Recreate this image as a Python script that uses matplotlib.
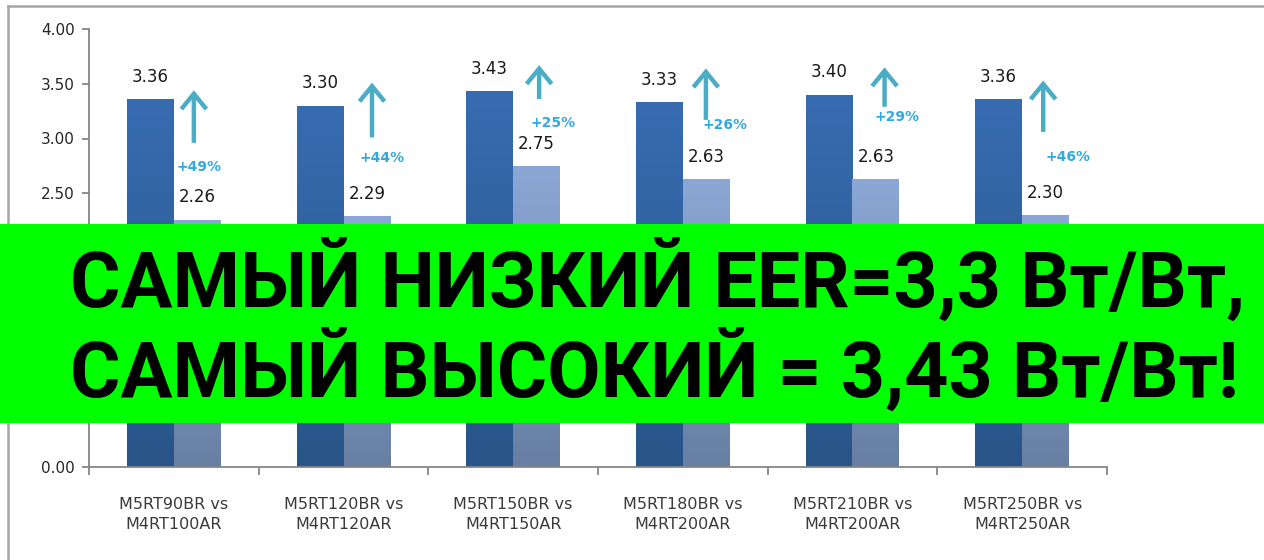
import numpy as np
import matplotlib
matplotlib.use("Agg")
import matplotlib.pyplot as plt
from matplotlib.patches import FancyArrowPatch, Rectangle
from matplotlib.lines import Line2D
from matplotlib.colors import LinearSegmentedColormap

# ---------------- data ----------------
categories = ["M5RT90BR vs\nM4RT100AR", "M5RT120BR vs\nM4RT120AR",
              "M5RT150BR vs\nM4RT150AR", "M5RT180BR vs\nM4RT200AR",
              "M5RT210BR vs\nM4RT200AR", "M5RT250BR vs\nM4RT250AR"]
new_eer = [3.36, 3.30, 3.43, 3.33, 3.40, 3.36]
old_eer = [2.26, 2.29, 2.75, 2.63, 2.63, 2.30]
gain_labels = ["+49%", "+44%", "+25%", "+26%", "+29%", "+46%"]
y_ticks = [0.0, 0.5, 1.0, 1.5, 2.0, 2.5, 3.0, 3.5, 4.0]
banner_lines = ["САМЫЙ НИЗКИЙ EER=3,3 Вт/Вт,", "САМЫЙ ВЫСОКИЙ = 3,43 Вт/Вт!"]

# ---------------- layout (annotation placement) ----------------
arrow_dx = [0.118, 0.168, 0.153, 0.136, 0.189, 0.124]
arrow_tail = [2.96, 3.01, 3.36, 3.17, 3.29, 3.06]
arrow_tip = [3.44, 3.51, 3.67, 3.64, 3.65, 3.53]
pct_dx = [0.147, 0.227, 0.235, 0.248, 0.262, 0.269]
pct_y = [2.74, 2.82, 3.14, 3.12, 3.20, 2.83]

W, H = 1264, 560
fig = plt.figure(figsize=(W / 100, H / 100), dpi=100)
fig.patch.set_facecolor("white")

ax = fig.add_axes([89 / W, (H - 467) / H, (1107 - 89) / W, (467 - 29) / H])

bw = 0.277
x = np.arange(len(categories))

dark_cmap = LinearSegmentedColormap.from_list("d", ["#285488", "#376CB1"])
light_cmap = LinearSegmentedColormap.from_list("l", ["#687FA3", "#8BA7D5"])
grad = np.linspace(0, 1, 256).reshape(-1, 1)

def grad_bars(xs, vals, cmap):
    bars = ax.bar(xs, vals, width=bw, color="none", edgecolor="none", zorder=2)
    for b in bars:
        x0, y0 = b.get_x(), b.get_y()
        w, h = b.get_width(), b.get_height()
        im = ax.imshow(grad, extent=[x0, x0 + w, y0, y0 + h], origin="lower",
                       cmap=cmap, aspect="auto", zorder=2, interpolation="bilinear")
        im.set_clip_path(b)
    return bars

b1 = grad_bars(x - bw / 2, new_eer, dark_cmap)
b2 = grad_bars(x + bw / 2, old_eer, light_cmap)
ax.set_xlim(-0.5, len(categories) - 0.5)
ax.set_ylim(0, 4)

for xi, v in zip(x - bw / 2, new_eer):
    ax.annotate(f"{v:.2f}", (xi, v), xytext=(0, 16), textcoords="offset points",
                ha="center", va="center", fontsize=12, color="#1a1a1a", zorder=4)
for xi, v in zip(x + bw / 2, old_eer):
    ax.annotate(f"{v:.2f}", (xi, v), xytext=(0, 16), textcoords="offset points",
                ha="center", va="center", fontsize=12, color="#1a1a1a", zorder=4)

for i in range(len(categories)):
    arr = FancyArrowPatch((i + arrow_dx[i], arrow_tail[i]), (i + arrow_dx[i], arrow_tip[i]),
                          arrowstyle="->,head_length=0.55,head_width=0.45",
                          mutation_scale=20, lw=3.2, color="#4BACC6", zorder=4,
                          shrinkA=0, shrinkB=0, capstyle="butt", joinstyle="miter")
    ax.add_patch(arr)
    ax.text(i + pct_dx[i], pct_y[i], gain_labels[i], ha="center", va="center",
            fontsize=10, fontweight="bold", color="#31A9E1", zorder=4)

# axes styling
for s in ["top", "right"]:
    ax.spines[s].set_visible(False)
for s in ["left", "bottom"]:
    ax.spines[s].set_color("#868686")
    ax.spines[s].set_linewidth(1.3)
ax.set_yticks(y_ticks)
ax.set_yticklabels([f"{t:.2f}" for t in y_ticks], fontsize=11, color="#262626")
ax.tick_params(axis="y", length=5, width=1.3, color="#868686", pad=5)
ax.set_xticks(np.arange(-0.5, len(categories) + 0.5, 1.0))
ax.set_xticklabels([])
ax.tick_params(axis="x", length=6, width=1.3, color="#868686")
for i, c in enumerate(categories):
    ax.text(i, -0.27, c, ha="center", va="top", fontsize=11.5, color="#3a3a3a",
            linespacing=1.45, transform=ax.transData, clip_on=False)

# outer chart frame
fig.add_artist(Line2D([8 / W, 8 / W], [0, 1 - 6 / H], transform=fig.transFigure,
                      color="#A6A6A6", lw=1.8))
fig.add_artist(Line2D([8 / W, 1], [1 - 6 / H, 1 - 6 / H], transform=fig.transFigure,
                      color="#A6A6A6", lw=1.8))

# green banner
fig.add_artist(Rectangle((0, (H - 423) / H), 1, (423 - 224) / H, transform=fig.transFigure,
                         facecolor="#00FF00", edgecolor="none", zorder=10))
fig.text(70 / W, (H - 307) / H, banner_lines[0], ha="left", va="baseline",
         fontsize=55.5, fontweight="bold", family="Roboto", color="black", zorder=11)
fig.text(70 / W, (H - 397) / H, banner_lines[1], ha="left", va="baseline",
         fontsize=55.5, fontweight="bold", family="Roboto", color="black", zorder=11)

fig.savefig("out.png", dpi=100)
